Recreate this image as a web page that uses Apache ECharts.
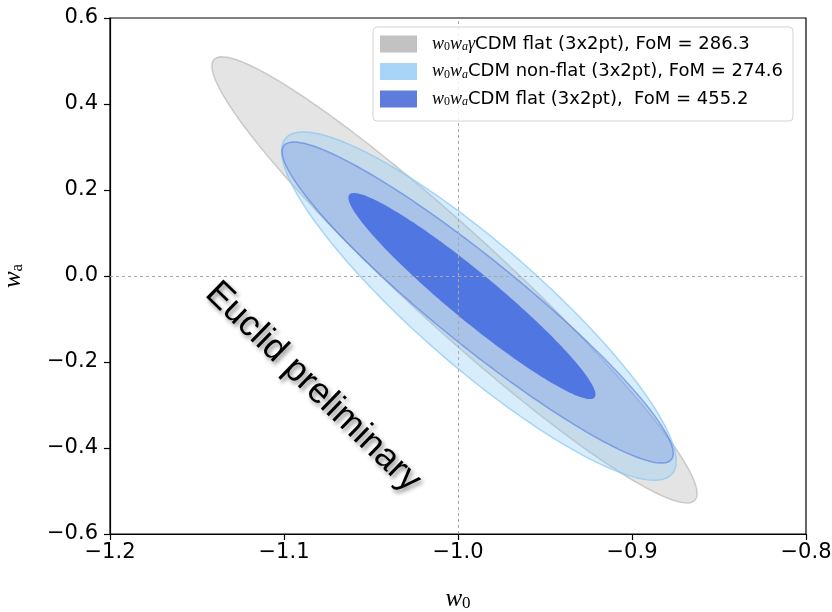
<!DOCTYPE html>
<html>
<head>
<meta charset="utf-8">
<script src="https://cdn.jsdelivr.net/npm/echarts@6/dist/echarts.min.js"></script>
<style>
html, body { margin: 0; padding: 0; background: #fff; }
#chart { width: 832px; height: 612px; }
</style>
</head>
<body>
<div id="chart"></div>
<script>
var xTicks = [-1.2, -1.1, -1.0, -0.9, -0.8];
var yTicks = [-0.6, -0.4, -0.2, 0.0, 0.2, 0.4, 0.6];

var modelNames = ['gamma flat', 'non-flat', 'flat'];
var modelMath = ['{m|w}{s|0}{m|w}{si|a}{m|γ}', '{m|w}{s|0}{m|w}{si|a}', '{m|w}{s|0}{m|w}{si|a}'];
var modelText = ['CDM flat (3x2pt), FoM = 286.3', 'CDM non-flat (3x2pt), FoM = 274.6', 'CDM flat (3x2pt),  FoM = 455.2'];

// contour rows: [w0 centre, wa centre, half extent in w0, half extent in wa, correlation]
var greyContours = [[-1.002, -0.009, 0.1394, 0.5187, -0.958]];
var lightContours = [[-0.988, -0.07, 0.1134, 0.405, -0.89]];
var blueContours = [[-0.9887, -0.0617, 0.1124, 0.3733, -0.94], [-0.992, -0.0466, 0.071, 0.2396, -0.955]];

var fills = {
    grey: ['rgba(185,185,185,0.38)'],
    light: ['rgba(135,200,245,0.33)'],
    blue: ['rgba(65,105,225,0.21)', 'rgba(65,105,225,0.85)']
};
var edges = {
    grey: ['rgba(175,175,175,0.6)'],
    light: ['rgba(135,200,245,0.7)'],
    blue: ['rgba(65,105,225,0.5)', 'rgba(65,105,225,0)']
};

function fmt(v) {
    return v.toFixed(1).replace('-', '\u2212');
}

function contourSeries(name, key, rows, z) {
    return {
        name: name,
        type: 'custom',
        z: z,
        clip: true,
        silent: true,
        data: rows,
        renderItem: function (params, api) {
            var cx = api.value(0), cy = api.value(1), ax = api.value(2), ay = api.value(3), r = api.value(4);
            var pts = [];
            for (var i = 0; i < 180; i++) {
                var t = i / 180 * 2 * Math.PI;
                pts.push(api.coord([cx + ax * Math.cos(t),
                    cy + ay * (r * Math.cos(t) + Math.sqrt(1 - r * r) * Math.sin(t))]));
            }
            return {
                type: 'polygon',
                shape: {points: pts},
                style: {fill: fills[key][params.dataIndex], stroke: edges[key][params.dataIndex], lineWidth: 1.5}
            };
        }
    };
}

var rich = {
    g: {width: 10},
    m: {fontFamily: 'Liberation Serif', fontStyle: 'italic', fontSize: 18, color: '#000'},
    s: {fontFamily: 'Liberation Serif', fontSize: 12, color: '#000', verticalAlign: 'bottom', padding: [6, 0, 0, 0]},
    si: {fontFamily: 'Liberation Serif', fontStyle: 'italic', fontSize: 12, color: '#000', verticalAlign: 'bottom', padding: [6, 0, 0, 0]},
    t: {fontFamily: 'DejaVu Sans', fontSize: 18, color: '#000'}
};

var chart = echarts.init(document.getElementById('chart'));
chart.setOption({
    animation: false,
    backgroundColor: '#fff',
    grid: {left: 110, right: 26, top: 18, bottom: 78, containLabel: false, outerBoundsMode: 'none',
        show: true, borderColor: '#000', borderWidth: 1.2},
    xAxis: {
        type: 'value', min: xTicks[0], max: xTicks[xTicks.length - 1], interval: 0.1,
        name: '{m|w}{s|0}', nameLocation: 'middle', nameGap: 53,
        nameTextStyle: {rich: {
            m: {fontFamily: 'Liberation Serif', fontStyle: 'italic', fontSize: 25, color: '#000'},
            s: {fontFamily: 'Liberation Serif', fontSize: 17, color: '#000', verticalAlign: 'bottom', padding: [8, 0, 0, 0]}
        }},
        axisLine: {onZero: false, lineStyle: {color: '#000', width: 1.2}},
        axisTick: {inside: false, length: 6, lineStyle: {color: '#000', width: 1.2}},
        axisLabel: {fontFamily: 'DejaVu Sans', fontSize: 21, color: '#000', margin: 8, formatter: fmt},
        splitLine: {show: false}
    },
    yAxis: {
        type: 'value', min: yTicks[0], max: yTicks[yTicks.length - 1], interval: 0.2,
        name: '{m|w}{s|a}', nameLocation: 'middle', nameGap: 84, nameRotate: 90,
        nameTextStyle: {rich: {
            m: {fontFamily: 'Liberation Serif', fontStyle: 'italic', fontSize: 25, color: '#000'},
            s: {fontFamily: 'Liberation Serif', fontSize: 17, color: '#000', verticalAlign: 'bottom', padding: [8, 0, 0, 0]}
        }},
        axisLine: {onZero: false, lineStyle: {color: '#000', width: 1.2}},
        axisTick: {inside: false, length: 6, lineStyle: {color: '#000', width: 1.2}},
        axisLabel: {fontFamily: 'DejaVu Sans', fontSize: 21, color: '#000', margin: 12, formatter: fmt},
        splitLine: {show: false}
    },
    legend: {
        orient: 'vertical', left: 373, top: 27, z: 21,
        padding: [8, 6, 8, 7], itemGap: 9.5, itemWidth: 37, itemHeight: 17,
        data: [
            {name: modelNames[0], icon: 'rect', itemStyle: {color: '#c2c2c2', borderWidth: 0}},
            {name: modelNames[1], icon: 'rect', itemStyle: {color: '#a8d4f7', borderWidth: 0}},
            {name: modelNames[2], icon: 'rect', itemStyle: {color: '#5f7bdc', borderWidth: 0}}
        ],
        formatter: function (name) {
            var i = modelNames.indexOf(name);
            return '{g|}' + modelMath[i] + '{t|' + modelText[i] + '}';
        },
        textStyle: {rich: rich}
    },
    graphic: [{
        type: 'rect',
        z: 20,
        shape: {x: 373, y: 27, width: 420, height: 94, r: 4},
        style: {fill: 'rgba(255,255,255,0.82)', stroke: '#d4d4d4', lineWidth: 1}
    }, {
        type: 'text',
        x: 313, y: 387,
        rotation: -0.77,
        z: 100,
        style: {
            text: 'Euclid preliminary',
            font: '36px "Liberation Sans"',
            fill: '#000',
            align: 'center',
            verticalAlign: 'middle',
            textShadowColor: 'rgba(0,0,0,0.45)',
            textShadowBlur: 4,
            textShadowOffsetX: 2,
            textShadowOffsetY: 3
        }
    }],
    series: [
        contourSeries(modelNames[0], 'grey', greyContours, 1),
        contourSeries(modelNames[1], 'light', lightContours, 2),
        contourSeries(modelNames[2], 'blue', blueContours, 3),
        {
            type: 'line', data: [], z: 10, silent: true,
            markLine: {
                silent: true, symbol: ['none', 'none'], label: {show: false},
                lineStyle: {type: [3, 3], color: '#a8a8a8', width: 1},
                data: [{xAxis: -1.0}, {yAxis: 0.0}]
            }
        }
    ]
});
</script>
</body>
</html>
